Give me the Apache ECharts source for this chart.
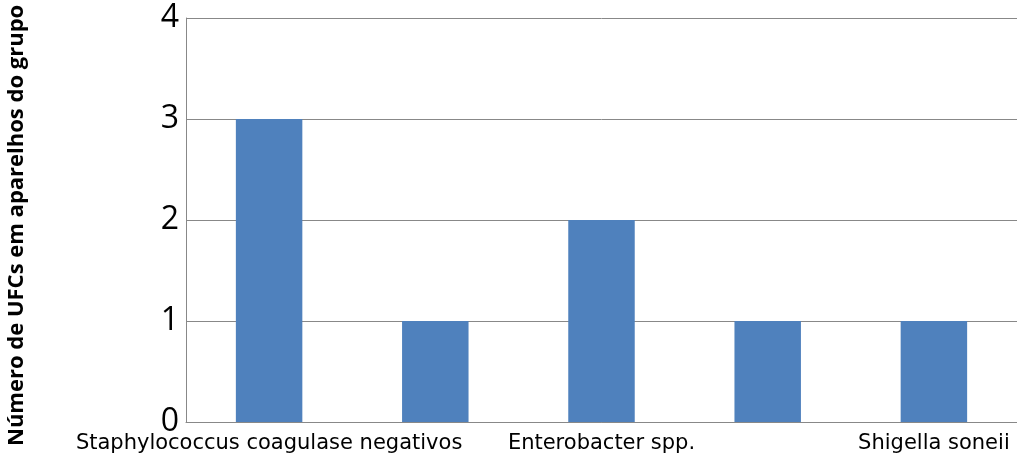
<!DOCTYPE html>
<html>
<head>
<meta charset="utf-8">
<script src="https://cdn.jsdelivr.net/npm/echarts@6/dist/echarts.min.js"></script>
<style>
  html, body { margin: 0; padding: 0; background: #fff; }
  #main { width: 1017px; height: 457px; }
</style>
</head>
<body>
<div id="main"></div>
<script>
// categorias (as que nao aparecem no eixo ficam em branco)
var categorias = ['Staphylococcus coagulase negativos', ' ', 'Enterobacter spp.', '  ', 'Shigella soneii'];
var ufcs = [3, 1, 2, 1, 1];
var yTicks = [0, 1, 2, 3, 4];
var nomeEixoY = 'Número de UFCs em aparelhos do grupo';

var chart = echarts.init(document.getElementById('main'));

option = {
    backgroundColor: '#fff',
    animation: false,
    grid: {
        left: 186,
        right: -2,
        top: 18,
        bottom: 35
    },
    xAxis: {
        type: 'category',
        data: categorias,
        axisLine: { show: true, lineStyle: { color: '#888', width: 1 } },
        axisTick: { show: false },
        axisLabel: {
            interval: 0,
            margin: 11,
            color: '#000',
            fontFamily: 'DejaVu Sans',
            fontSize: 21
        }
    },
    yAxis: {
        type: 'value',
        min: yTicks[0],
        max: yTicks[yTicks.length - 1],
        interval: 1,
        axisLine: { show: true, lineStyle: { color: '#888', width: 1 } },
        axisTick: { show: false },
        splitLine: { show: true, lineStyle: { color: '#888', width: 1 } },
        axisLabel: {
            margin: 7,
            color: '#000',
            fontFamily: 'Open Sans',
            fontSize: 32
        }
    },
    graphic: [{
        type: 'text',
        x: 17,
        y: 446,
        rotation: Math.PI / 2,
        style: {
            text: nomeEixoY,
            fill: '#000',
            font: 'bold 22px "Open Sans"',
            textAlign: 'left',
            textVerticalAlign: 'middle'
        }
    }],
    series: [{
        type: 'bar',
        data: ufcs,
        barWidth: '40%',
        itemStyle: { color: '#4f81bd' }
    }]
};

chart.setOption(option);
</script>
</body>
</html>
